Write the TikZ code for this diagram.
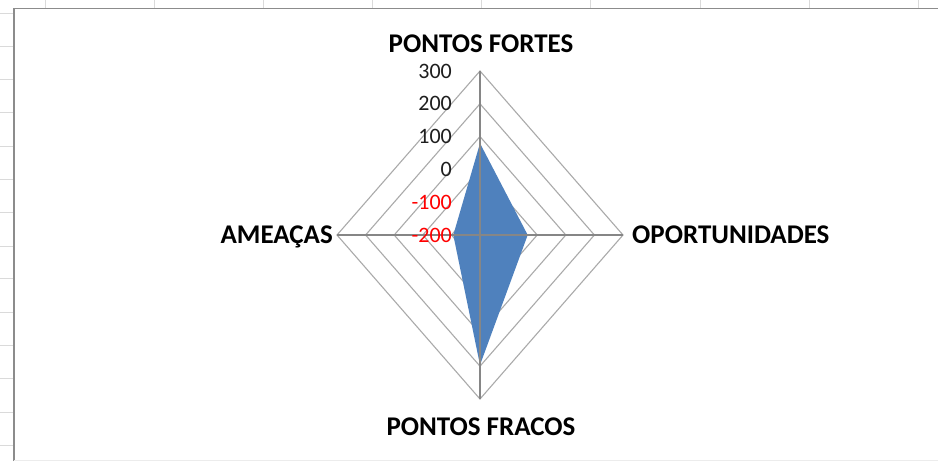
\documentclass[tikz,border=0pt]{standalone}
\usepackage{fontspec}
\setmainfont{Carlito}
\definecolor{ringgray}{RGB}{170,170,170}
\definecolor{spokegray}{RGB}{134,134,134}
\definecolor{framegray}{RGB}{140,140,140}
\definecolor{sheetgray}{RGB}{218,218,218}
\definecolor{bottomgray}{RGB}{236,236,236}
\definecolor{seriesblue}{RGB}{79,129,189}
\definecolor{valblack}{RGB}{30,30,30}
\begin{document}
\begin{tikzpicture}[x=1pt,y=-1pt,
  ring/.style={draw=ringgray,line width=1.1pt},
  spoke/.style={draw=spokegray,line width=1.4pt},
  cat/.style={font=\fontsize{27}{30}\selectfont\bfseries,inner sep=0pt,text=black},
  val/.style={font=\fontsize{22}{24}\selectfont,inner sep=0pt,anchor=east,text=valblack},
  neg/.style={val,text=red},
  sheet/.style={draw=sheetgray,line width=1pt}]
\useasboundingbox (0,0) rectangle (938,461);
\fill[white] (0,0) rectangle (938,461);
% spreadsheet grid around the chart
\foreach \y in {13,46,79,112,146,179,212,246,278,312,345,378,412,445}
  \draw[sheet] (0,\y) -- (14,\y);
\foreach \x in {45,154,263,372,481,590,700,809,918}
  \draw[sheet] (\x,0) -- (\x,8.5);
% chart frame
\draw[framegray,line width=1.6pt] (14,461) -- (14,8.5) -- (938,8.5);
\draw[bottomgray,line width=1pt] (14,460) -- (938,460);
% rings
\foreach \k in {1,...,5}
  \draw[ring] ({480+28.6*\k},235) -- (480,{235+32.8*\k}) -- ({480-28.6*\k},235) -- (480,{235-32.8*\k}) -- cycle;
% series
\coordinate (sT) at (480,143.3);
\coordinate (sR) at (527.7,235);
\coordinate (sB) at (480,365);
\coordinate (sL) at (453.3,235);
\fill[seriesblue] (sT) -- (sR) -- (sB) -- (sL) -- cycle;
% spokes
\coordinate (C) at (480,235);
\coordinate (T) at (480,71);
\coordinate (R) at (623,235);
\coordinate (B) at (480,399);
\coordinate (L) at (337,235);
\draw[spoke] (C) -- (T);
\draw[spoke] (C) -- (R);
\draw[spoke] (C) -- (B);
\draw[spoke] (C) -- (L);
% value labels
\node[val] (v300) at (452,71) {300};
\node[val] (v200) at (452,103.8) {200};
\node[val] (v100) at (452,136.6) {100};
\node[val] (v0) at (452,169.4) {0};
\node[neg] (vm100) at (452,202.2) {-100};
\node[neg] (vm200) at (452,235) {-200};
% category labels
\node[cat,anchor=base] (pf) at (481,52) {PONTOS FORTES};
\node[cat,anchor=base west] (op) at (632,243) {OPORTUNIDADES};
\node[cat,anchor=base east] (am) at (333,243) {AMEAÇAS};
\node[cat,anchor=base] (pfr) at (481,435) {PONTOS FRACOS};
\end{tikzpicture}
\end{document}
